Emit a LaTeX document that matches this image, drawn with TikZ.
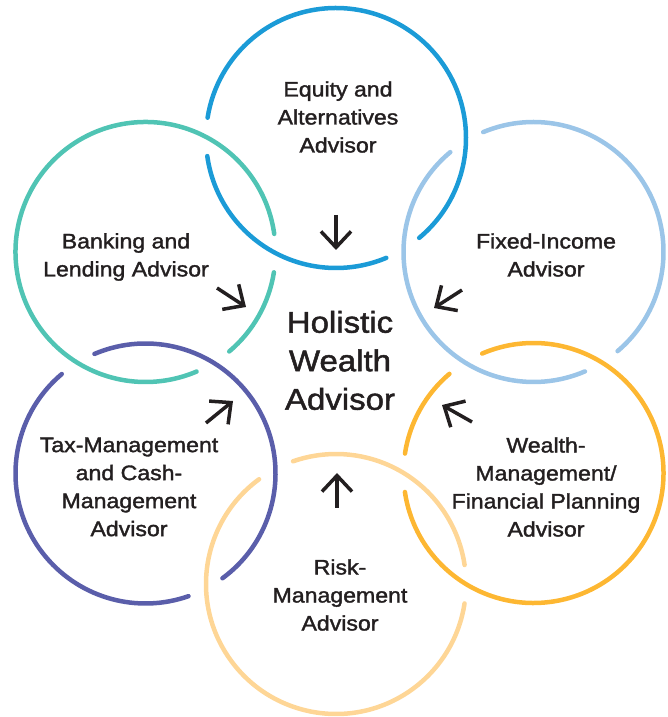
\documentclass[tikz,border=0pt]{standalone}
\usepackage{fontspec}
\setmainfont{Liberation Sans}[FakeStretch=1.1,FakeBold=1.6]
\usetikzlibrary{arrows.meta}
\definecolor{cBlue}{RGB}{27,155,215}
\definecolor{cLBlue}{RGB}{155,197,232}
\definecolor{cOrange}{RGB}{253,183,50}
\definecolor{cLOrange}{RGB}{254,214,150}
\definecolor{cPurple}{RGB}{90,94,170}
\definecolor{cTeal}{RGB}{80,196,180}
\definecolor{cText}{RGB}{35,31,32}
\newcommand\ringR{130}
\newcommand\ringarc[4]{\draw[ring,#1] (#2) ++(#3:\ringR) arc[start angle=#3,end angle=#4,radius=\ringR];}
\begin{document}
\begin{tikzpicture}[x=1pt,y=1pt,
  ring/.style={line width=4.5pt,line cap=round},
  lbl/.style={text=cText,align=center,font=\fontsize{21}{28}\selectfont,inner sep=0pt},
  hub/.style={text=cText,align=center,font=\fontsize{30}{38.5}\selectfont,inner sep=0pt},
  arr/.style={draw=cText,line width=3.5pt,-{Straight Barb[length=16pt,width=30pt]}}]
\useasboundingbox (0,0) rectangle (668,717);
% ring centres
\coordinate (cB) at (336,579);
\coordinate (cLB) at (533.5,465);
\coordinate (cO) at (533.5,244);
\coordinate (cLO) at (336,133);
\coordinate (cP) at (145.5,243.5);
\coordinate (cT) at (145.5,465);
% rings with interlacing gaps
\ringarc{cBlue}{cB}{188}{292.8}
\ringarc{cBlue}{cB}{309.8}{531}
\ringarc{cLBlue}{cLB}{129.8}{293.3}
\ringarc{cLBlue}{cLB}{310.3}{472.8}
\ringarc{cOrange}{cO}{130.3}{171.4}
\ringarc{cOrange}{cO}{188.4}{473.3}
\ringarc{cLOrange}{cLO}{126.3}{351.4}
\ringarc{cLOrange}{cLO}{368.4}{469.3}
\ringarc{cPurple}{cP}{130.1}{289.3}
\ringarc{cPurple}{cP}{306.3}{473.1}
\ringarc{cTeal}{cT}{310.1}{351}
\ringarc{cTeal}{cT}{368}{653.1}
% labels
\node[lbl] (nB) at (338,600) {Equity and\\Alternatives\\Advisor};
\node[lbl] (nLB) at (546,462) {Fixed-Income\\Advisor};
\node[lbl] (nT) at (126,460) {Banking and\\Lending Advisor};
\node[lbl] (nP) at (129,230) {Tax-Management\\and Cash-\\Management\\Advisor};
\node[lbl] (nO) at (546,230) {Wealth-\\Management/\\Financial Planning\\Advisor};
\node[lbl] (nLO) at (340,122) {Risk-\\Management\\Advisor};
\node[hub] (hub) at (340,356.5) {Holistic\\Wealth\\Advisor};
% arrows
\coordinate (aBs) at (336,502); \coordinate (aBe) at (336,467);
\coordinate (aTs) at (217,429); \coordinate (aTe) at (246,410);
\coordinate (aLBs) at (462,427); \coordinate (aLBe) at (434,409);
\coordinate (aOs) at (472,295); \coordinate (aOe) at (442,312);
\coordinate (aLOs) at (337,209); \coordinate (aLOe) at (337,244);
\coordinate (aPs) at (206,294); \coordinate (aPe) at (233,316);
\draw[arr] (aBs) -- (aBe);
\draw[arr] (aTs) -- (aTe);
\draw[arr] (aLBs) -- (aLBe);
\draw[arr] (aOs) -- (aOe);
\draw[arr] (aLOs) -- (aLOe);
\draw[arr] (aPs) -- (aPe);
\end{tikzpicture}
\end{document}
